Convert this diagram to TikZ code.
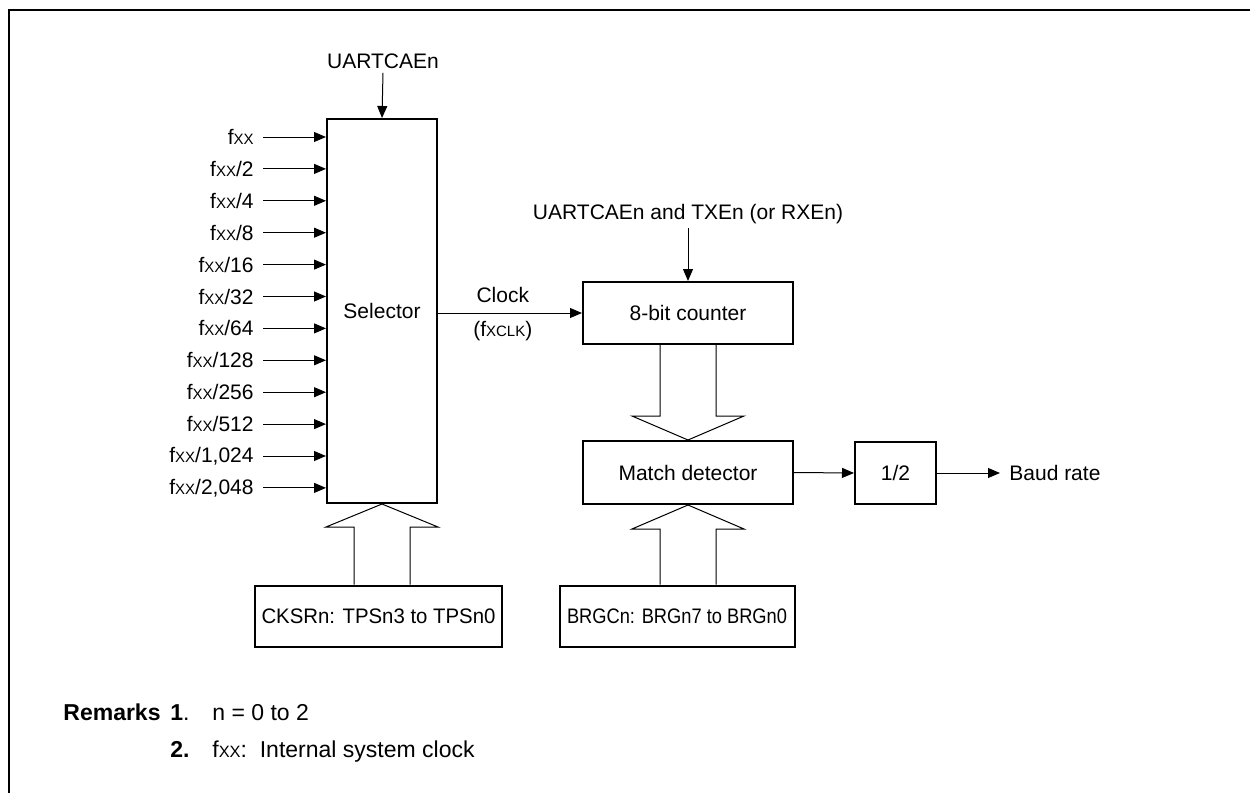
\documentclass[tikz,border=0pt]{standalone}
\usepackage{fontspec}
\usepackage{graphicx}
\setmainfont{Liberation Sans}
\usetikzlibrary{arrows.meta,calc}
\newcommand\smc[1]{{\fontsize{7.5}{9}\selectfont #1}}
\newcommand\fxx{f\smc{XX}}
\begin{document}
\begin{tikzpicture}[x=0.5pt,y=-0.5pt,
  every node/.style={font=\fontsize{10.5}{12.6}\selectfont, inner sep=2pt},
  blk/.style={draw, line width=1pt},
  arr/.style={-{Triangle[length=6pt,width=5pt]}, line width=0.5pt},
  wide/.style={line width=0.5pt, line join=miter},
  frame/.style={line width=1.4pt},
  rem/.style={anchor=base west, inner sep=0pt, font=\fontsize{11.5}{13.8}\selectfont}
]
\useasboundingbox (0,0) rectangle (1250,793);
\draw[frame] (9,793) -- (9,10) -- (1250,10);

% blocks
\node[blk, minimum width=55pt, minimum height=192pt] (sel) at (382,311) {Selector};
\node[blk, minimum width=105pt, minimum height=31pt] (cnt) at (688,313) {8-bit counter};
\node[blk, minimum width=105pt, minimum height=31.5pt] (mat) at (688,472.5) {Match detector};
\node[blk, minimum width=40.5pt, minimum height=31pt] (half) at (895.5,473) {1/2};
\node[blk, minimum width=123.5pt, minimum height=30.5pt] (cksr) at (378.5,616) {\scalebox{0.97}[1]{CKSRn: TPSn3 to TPSn0}};
\node[blk, minimum width=117.5pt, minimum height=30.5pt] (brgc) at (677,616) {\scalebox{0.87}[1]{BRGCn: BRGn7 to BRGn0}};

% top control labels
\node (u1) at (383,61) {UARTCAEn};
\draw[arr] (u1.south) -- (sel.north);
\node (u2) at (688,214) {UARTCAEn and TXEn (or RXEn)};
\draw[arr] (u2.south) -- (cnt.north);

% inputs
\foreach \t [count=\i from 0] in {{}, /2, /4, /8, /16, /32, /64, /128, /256, /512, {/1,024}, {/2,048}} {
  \node[anchor=east] (in\i) at (258,{137+31.9*\i}) {\fxx\t};
  \draw[arr] ([xshift=2.5pt]in\i.east) -- (in\i.east -| sel.west);
}

% clock
\draw[arr] (sel.east |- cnt.west) -- (cnt.west)
  node[pos=0.45, above=3pt] (clk) {Clock}
  node[pos=0.45, below=2pt] (fclk) {(f\smc{XCLK})};

% match -> 1/2 -> baud
\draw[arr] (mat.east) -- (half.west);
\coordinate (bend) at (1000,473);
\draw[arr] (half.east) -- (bend);
\node[anchor=west, inner sep=0pt] (baud) at (1009,473) {Baud rate};

% wide arrow: CKSRn -> selector
\coordinate (a1) at ([xshift=-14pt]sel.south);
\coordinate (a2) at ([xshift=14pt]sel.south);
\draw[wide] (a1 |- cksr.north) -- ([yshift=-11.5pt]a1) -- ([xshift=-28pt,yshift=-11.5pt]sel.south)
  -- (sel.south) -- ([xshift=28pt,yshift=-11.5pt]sel.south) -- ([yshift=-11.5pt]a2) -- (a2 |- cksr.north);

% wide arrow: counter -> match
\coordinate (b1) at ([xshift=-14pt]mat.north);
\coordinate (b2) at ([xshift=14pt]mat.north);
\draw[wide] (b1 |- cnt.south) -- ([yshift=12pt]b1) -- ([xshift=-28pt,yshift=12pt]mat.north)
  -- (mat.north) -- ([xshift=28pt,yshift=12pt]mat.north) -- ([yshift=12pt]b2) -- (b2 |- cnt.south);

% wide arrow: BRGCn -> match
\coordinate (c1) at ([xshift=-14pt]mat.south);
\coordinate (c2) at ([xshift=14pt]mat.south);
\draw[wide] (c1 |- brgc.north) -- ([yshift=-12pt]c1) -- ([xshift=-28pt,yshift=-12pt]mat.south)
  -- (mat.south) -- ([xshift=28pt,yshift=-12pt]mat.south) -- ([yshift=-12pt]c2) -- (c2 |- brgc.north);

% remarks
\node[rem, anchor=base east] (rm) at (161,720) {\textbf{Remarks}};
\node[rem] (r1n) at (170,720) {\textbf{1}.};
\node[rem] (r1t) at (212,720) {n = 0 to 2};
\node[rem] (r2n) at (170,757) {\textbf{2.}};
\node[rem] (r2t) at (212,757) {f{\fontsize{8.2}{9}\selectfont XX}:\ \ Internal system clock};
\end{tikzpicture}
\end{document}
